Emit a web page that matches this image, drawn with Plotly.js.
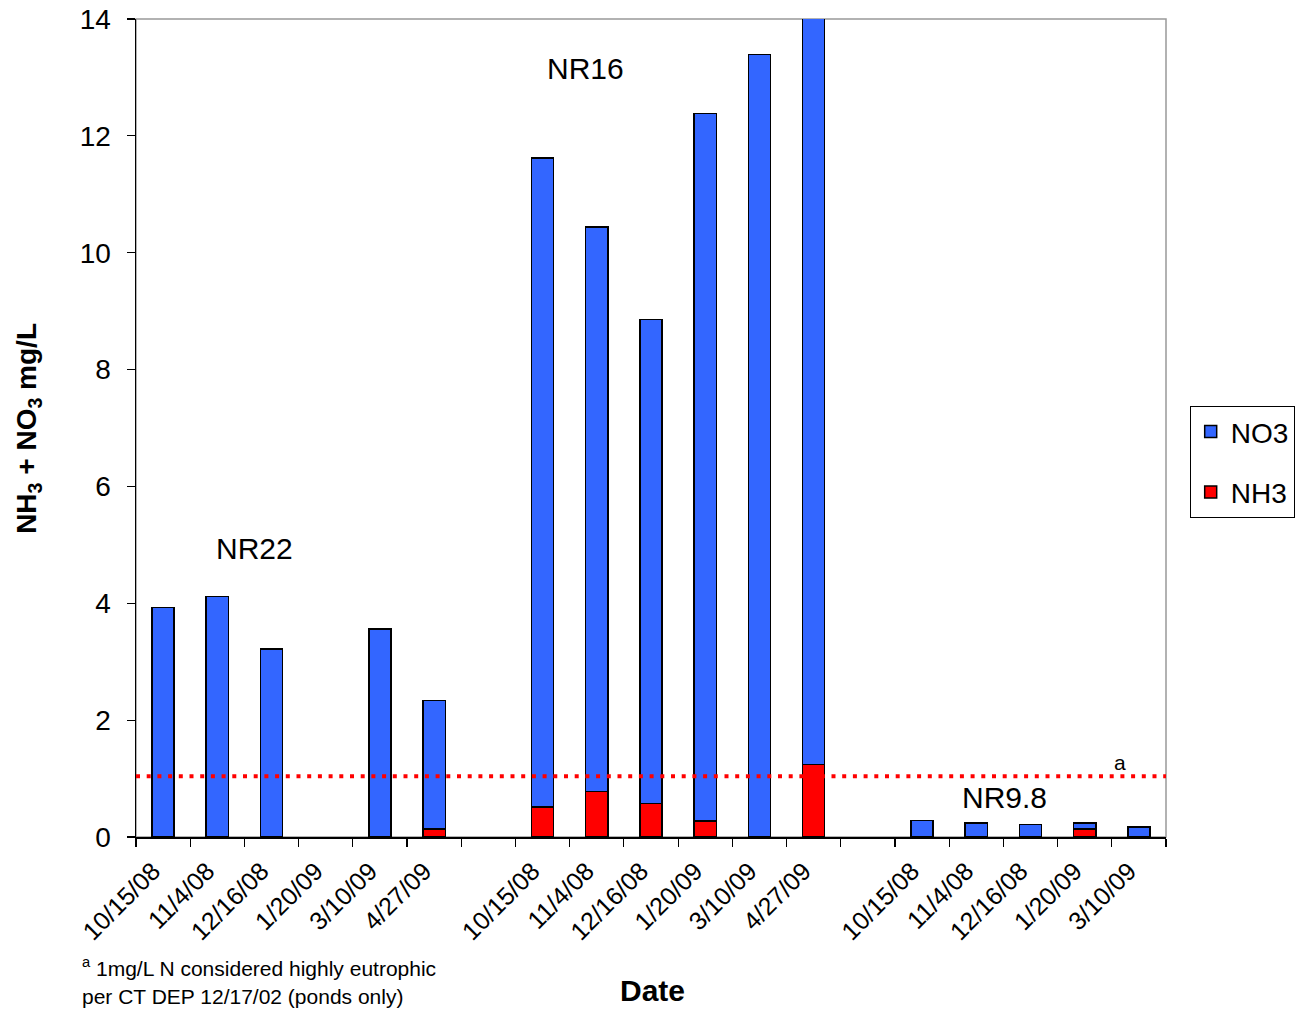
<!DOCTYPE html>
<html>
<head>
<meta charset="utf-8">
<script src="https://cdn.plot.ly/plotly-3.0.1.min.js"></script>
<style>html,body{margin:0;padding:0;background:#fff;}#chart{width:1300px;height:1011px;}</style>
</head>
<body>
<div id="chart"></div>
<script>
// Category ids (unique), and their displayed tick labels
const categories = [
  "NR22 10/15/08","NR22 11/4/08","NR22 12/16/08","NR22 1/20/09","NR22 3/10/09","NR22 4/27/09",
  "gap1",
  "NR16 10/15/08","NR16 11/4/08","NR16 12/16/08","NR16 1/20/09","NR16 3/10/09","NR16 4/27/09",
  "gap2",
  "NR9.8 10/15/08","NR9.8 11/4/08","NR9.8 12/16/08","NR9.8 1/20/09","NR9.8 3/10/09"
];
const tickLabels = [
  "10/15/08","11/4/08","12/16/08","1/20/09","3/10/09","4/27/09",
  "",
  "10/15/08","11/4/08","12/16/08","1/20/09","3/10/09","4/27/09",
  "",
  "10/15/08","11/4/08","12/16/08","1/20/09","3/10/09"
];
const nh3 = [0, 0, 0, null, 0, 0.14,
             null,
             0.51, 0.78, 0.57, 0.27, 0, 1.24,
             null,
             0, 0, 0, 0.14, 0];
const no3 = [3.93, 4.12, 3.22, null, 3.56, 2.20,
             null,
             11.11, 9.66, 8.29, 12.11, 13.39, 13.16,
             null,
             0.28, 0.24, 0.21, 0.10, 0.17];
const thresholdLevel = 1.04;

const FONT = "Liberation Sans, Arial, Helvetica, sans-serif";

const traces = [
  {type:"bar", name:"NH3", x:categories, y:nh3, legendrank:2, legendgroup:"g2",
   marker:{color:"#FF0000", line:{color:"#000", width:1.5}}, hoverinfo:"y"},
  {type:"bar", name:"NO3", x:categories, y:no3, legendrank:1, legendgroup:"g1",
   marker:{color:"#3366FF", line:{color:"#000", width:1.5}}, hoverinfo:"y"}
];

function ann(text, x, y, size, extra) {
  return Object.assign({text:text, xref:"paper", yref:"paper", x:x, y:y,
    xanchor:"center", yanchor:"middle", showarrow:false,
    font:{family:FONT, size:size, color:"#000"}}, extra || {});
}

const layout = {
  width:1300, height:1011,
  margin:{l:136, r:134, t:19, b:174, pad:0, autoexpand:false},
  paper_bgcolor:"#fff", plot_bgcolor:"#fff",
  barmode:"stack", bargap:0.59,
  font:{family:FONT, size:24, color:"#000"},
  showlegend:true,
  legend:{x:1.023, xanchor:"left", y:0.527, yanchor:"top",
          bordercolor:"#000", borderwidth:1, bgcolor:"#fff",
          traceorder:"grouped", tracegroupgap:21,
          font:{family:FONT, size:28, color:"#000"}},
  xaxis:{type:"category", categoryorder:"array", categoryarray:categories,
         tickvals:categories, ticktext:tickLabels, tickson:"boundaries",
         ticks:"outside", ticklen:8, tickwidth:1.2, tickcolor:"#000",
         tickangle:-45, tickfont:{family:FONT, size:25, color:"#000"},
         ticklabelshift:-10, ticklabelstandoff:8,
         showline:true, linecolor:"#000", linewidth:1.5,
         showgrid:false, zeroline:false, fixedrange:true},
  yaxis:{range:[0,14], tickvals:[0,2,4,6,8,10,12,14],
         ticks:"outside", ticklen:8, tickwidth:1.2, tickcolor:"#000",
         tickfont:{family:FONT, size:28, color:"#000"},
         ticklabelstandoff:10,
         showline:true, linecolor:"#000", linewidth:1.5,
         showgrid:false, zeroline:false, fixedrange:true},
  shapes:[
    {type:"rect", xref:"paper", yref:"paper", x0:0, x1:1, y0:0, y1:1,
     line:{color:"#999", width:1.5}, layer:"below"},
    {type:"line", xref:"paper", yref:"y", x0:0, x1:1, y0:thresholdLevel, y1:thresholdLevel,
     line:{color:"#FF0000", width:4, dash:"4px,6.7px"}, layer:"above"}
  ],
  annotations:[
    ann("NR22", 0.1155, 0.353, 30),
    ann("NR16", 0.436, 0.940, 30),
    ann("NR9.8", 0.843, 0.0486, 30),
    ann("a", 0.955, 0.0914, 21),
    ann("<b>NH<sub>3</sub> + NO<sub>3</sub> mg/L</b>", -0.105, 0.5, 28, {textangle:-90}),
    ann("<b>Date</b>", 0.501, -0.1875, 30),
    ann("<sup>a</sup> 1mg/L N considered highly eutrophic",
        -0.0544, -0.1594, 21, {xanchor:"left"}),
    ann("per CT DEP 12/17/02 (ponds only)", -0.0544, -0.1949, 21, {xanchor:"left"})
  ]
};

Plotly.newPlot("chart", traces, layout, {staticPlot:true, displayModeBar:false});
</script>
</body>
</html>
